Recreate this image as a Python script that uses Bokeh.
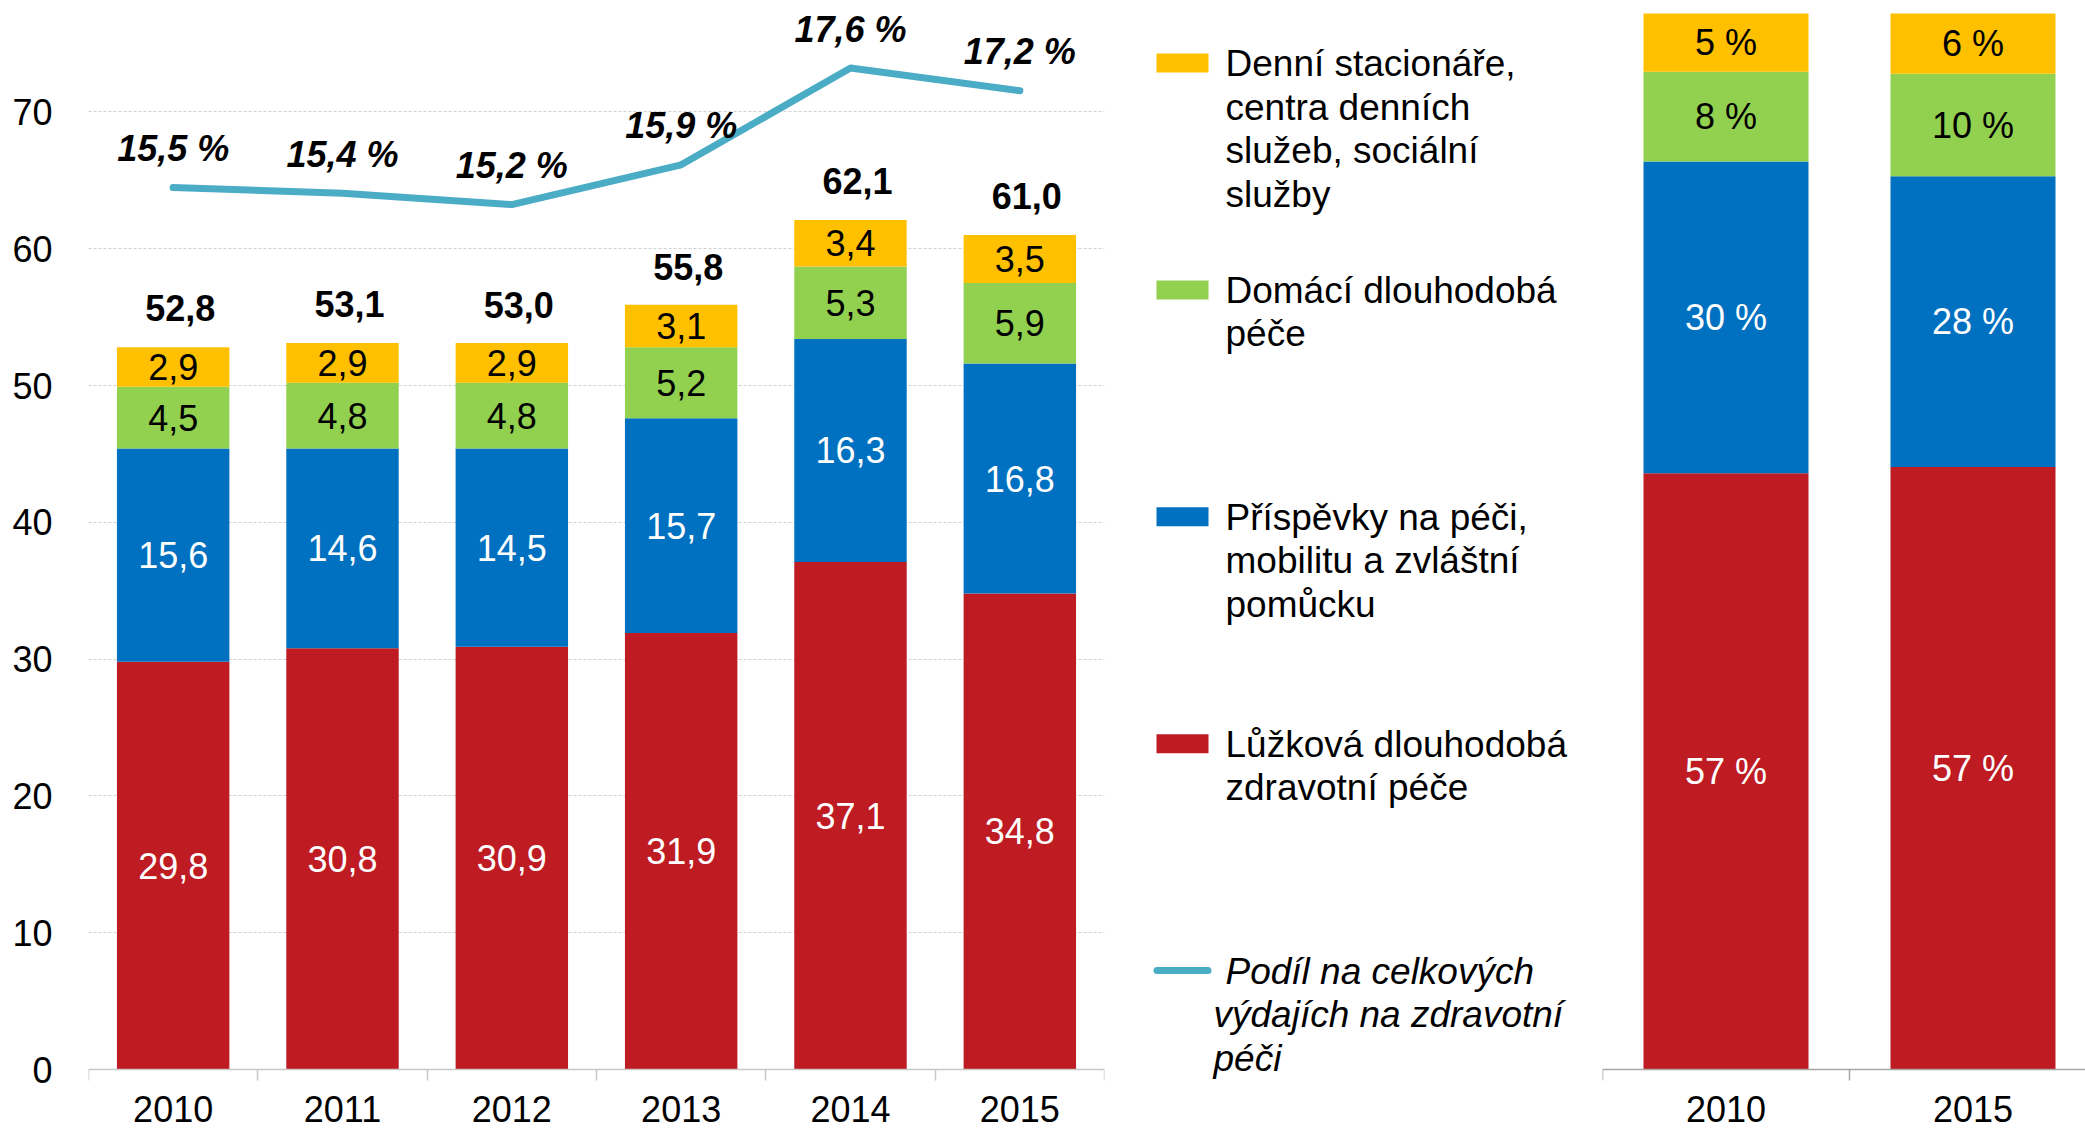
import numpy as np
from bokeh.plotting import figure
from bokeh.models import Range1d, FixedTicker, ColumnDataSource
from bokeh.layouts import row
from bokeh.embed import file_html
from bokeh.resources import INLINE
from bokeh.core.properties import value

# ---------------- data ----------------
years = ["2010", "2011", "2012", "2013", "2014", "2015"]
luzkova = [29.8, 30.8, 30.9, 31.9, 37.1, 34.8]      # Lůžková dlouhodobá zdravotní péče
prispevky = [15.6, 14.6, 14.5, 15.7, 16.3, 16.8]    # Příspěvky na péči ...
domaci = [4.5, 4.8, 4.8, 5.2, 5.3, 5.9]             # Domácí dlouhodobá péče
denni = [2.9, 2.9, 2.9, 3.1, 3.4, 3.5]              # Denní stacionáře ...
totals = [52.8, 53.1, 53.0, 55.8, 62.1, 61.0]
podil = [15.5, 15.4, 15.2, 15.9, 17.6, 17.2]        # % of total health expenditure
y_ticks = [0, 10, 20, 30, 40, 50, 60, 70]

share_years = ["2010", "2015"]
share_luzkova = [56.4, 57.0]
share_prispevky = [29.5, 27.5]
share_domaci = [8.5, 9.7]
share_denni = [5.5, 5.7]
share_lab_luzkova = ["57 %", "57 %"]
share_lab_prispevky = ["30 %", "28 %"]
share_lab_domaci = ["8 %", "10 %"]
share_lab_denni = ["5 %", "6 %"]

legend_lines = [
    ["Denní stacionáře,", "centra denních", "služeb, sociální", "služby"],
    ["Domácí dlouhodobá", "péče"],
    ["Příspěvky na péči,", "mobilitu a zvláštní", "pomůcku"],
    ["Lůžková dlouhodobá", "zdravotní péče"],
    ["Podíl na celkových", "výdajích na zdravotní", "péči"],
]

# ---------------- style ----------------
FONT_NAME = "Liberation Sans"
FONT = value(FONT_NAME)
FS = "36px"
FS_LEG = "37px"
C_RED, C_BLUE, C_GREEN, C_YELLOW, C_LINE = "#BE1B23", "#0070C0", "#92D050", "#FFC000", "#4BACC6"
series_cols = ["luzkova", "prispevky", "domaci", "denni"]
series_colors = [C_RED, C_BLUE, C_GREEN, C_YELLOW]
label_colors = ["white", "white", "black", "black"]

H = 1130
Y0_PX = 1069          # px (from top) where value 0 sits
PX_UNIT = 13.68       # px per unit, left chart
PX_PCT = 56.9         # px per percent, line
PX_SHARE = 10.57      # px per percent, right chart


def fmt(v):
    return f"{v:.1f}".replace(".", ",")


def style_xaxis(ax, labels, color):
    ax.fixed_location = 0
    n = len(labels)
    ax.ticker = FixedTicker(ticks=list(range(n)), minor_ticks=[i - 0.5 for i in range(n + 1)])
    ax.major_label_overrides = {i: lab for i, lab in enumerate(labels)}
    ax.major_tick_out = 0
    ax.major_tick_in = 0
    ax.minor_tick_in = 0
    ax.minor_tick_out = 11
    ax.minor_tick_line_color = color
    ax.minor_tick_line_width = 1.5
    ax.axis_line_color = color
    ax.axis_line_width = 1.5
    ax.major_label_text_font = FONT_NAME
    ax.major_label_text_font_size = FS
    ax.major_label_text_color = "black"
    ax.major_label_standoff = 15


# ---------------- left chart ----------------
n = len(years)
xs = list(range(n))
p1 = figure(width=1130, height=H,
            x_range=Range1d(-0.5, n - 0.5),
            y_range=Range1d(-(H - Y0_PX) / PX_UNIT, Y0_PX / PX_UNIT),
            output_backend="svg", toolbar_location=None,
            min_border_left=88, min_border_right=26, min_border_top=0, min_border_bottom=0,
            outline_line_color=None)
p1.extra_y_ranges = {"pct": Range1d(-(H - Y0_PX) / PX_PCT, Y0_PX / PX_PCT)}

style_xaxis(p1.xaxis[0], years, "#C8C8C8")
ya = p1.yaxis[0]
ya.ticker = FixedTicker(ticks=y_ticks)
ya.axis_line_color = None
ya.major_tick_line_color = None
ya.minor_tick_line_color = None
ya.major_label_text_font = FONT_NAME
ya.major_label_text_font_size = FS
ya.major_label_text_color = "black"
ya.major_label_standoff = 30
p1.xgrid.visible = False
p1.ygrid.grid_line_color = "#D0D0D0"
p1.ygrid.grid_line_dash = "3 2"
p1.ygrid.grid_line_width = 1.2

src = ColumnDataSource(dict(x=xs, luzkova=luzkova, prispevky=prispevky, domaci=domaci, denni=denni))
p1.vbar_stack(series_cols, x="x", width=0.664, color=series_colors, line_color=None, source=src)

stack = np.array([luzkova, prispevky, domaci, denni])
tops = np.cumsum(stack, axis=0)
mids = tops - stack / 2
for k in range(4):
    p1.text(x=xs, y=list(mids[k]), text=[fmt(v) for v in stack[k]],
            text_font=FONT, text_font_size=FS, text_color=label_colors[k],
            text_align="center", text_baseline="middle")

p1.text(x=xs, y=totals, text=[fmt(v) for v in totals], x_offset=7, y_offset=-39,
        text_font=FONT, text_font_size=FS, text_font_style="bold", text_color="black",
        text_align="center", text_baseline="middle")

p1.line(x=xs, y=podil, y_range_name="pct", line_width=7, line_color=C_LINE,
        line_cap="round", line_join="round")
p1.text(x=xs, y=podil, y_range_name="pct", text=[fmt(v) + " %" for v in podil], y_offset=-39,
        text_font=FONT, text_font_size=FS, text_font_style="bold italic", text_color="black",
        text_align="center", text_baseline="middle")

# ---------------- legend ----------------
LW = 460
p2 = figure(width=LW, height=H, x_range=Range1d(0, LW), y_range=Range1d(H, 0),
            output_backend="svg", toolbar_location=None,
            x_axis_location=None, y_axis_location=None,
            min_border_left=0, min_border_right=0, min_border_top=0, min_border_bottom=0,
            outline_line_color=None)
p2.grid.visible = False
LEG_Y0, LEG_STEP = 62.5, 226.9
sw_colors = [C_YELLOW, C_GREEN, C_BLUE, C_RED]
sw_y = [LEG_Y0 + i * LEG_STEP for i in range(5)]
p2.rect(x=[52] * 4, y=sw_y[:4], width=52, height=19, color=sw_colors, line_color=None)
p2.segment(x0=[26.5], y0=[sw_y[4]], x1=[77.5], y1=[sw_y[4]], line_width=7,
           line_color=C_LINE, line_cap="round")
for i, lines in enumerate(legend_lines):
    italic = (i == 4)
    tx = [95 if (j == 0 or not italic) else 83 for j in range(len(lines))]
    ty = [sw_y[i] + 0.5 + 43.5 * j for j in range(len(lines))]
    p2.text(x=tx, y=ty, text=lines, text_font=FONT, text_font_size=FS_LEG,
            text_font_style="italic" if italic else "normal", text_color="black",
            text_align="left", text_baseline="alphabetic")

# ---------------- right chart (shares) ----------------
RW = 495
RL = 12
m = len(share_years)
xs2 = list(range(m))
p3 = figure(width=RW, height=H,
            x_range=Range1d(-0.5, -0.5 + (RW - RL) / 247.0),
            y_range=Range1d(-(H - Y0_PX) / PX_SHARE, Y0_PX / PX_SHARE),
            output_backend="svg", toolbar_location=None, y_axis_location=None,
            min_border_left=RL, min_border_right=0, min_border_top=0, min_border_bottom=0,
            outline_line_color=None)
style_xaxis(p3.xaxis[0], share_years, "#A6A6A6")
p3.grid.visible = False
src3 = ColumnDataSource(dict(x=xs2, luzkova=share_luzkova, prispevky=share_prispevky,
                             domaci=share_domaci, denni=share_denni))
p3.vbar_stack(series_cols, x="x", width=0.668, color=series_colors, line_color=None, source=src3)
sstack = np.array([share_luzkova, share_prispevky, share_domaci, share_denni])
smids = np.cumsum(sstack, axis=0) - sstack / 2
slabels = [share_lab_luzkova, share_lab_prispevky, share_lab_domaci, share_lab_denni]
for k in range(4):
    p3.text(x=xs2, y=list(smids[k]), text=slabels[k], text_font=FONT, text_font_size=FS,
            text_color=label_colors[k], text_align="center", text_baseline="middle")

layout = row(p1, p2, p3, spacing=0)
open("out.html", "w").write(file_html(layout, INLINE))
